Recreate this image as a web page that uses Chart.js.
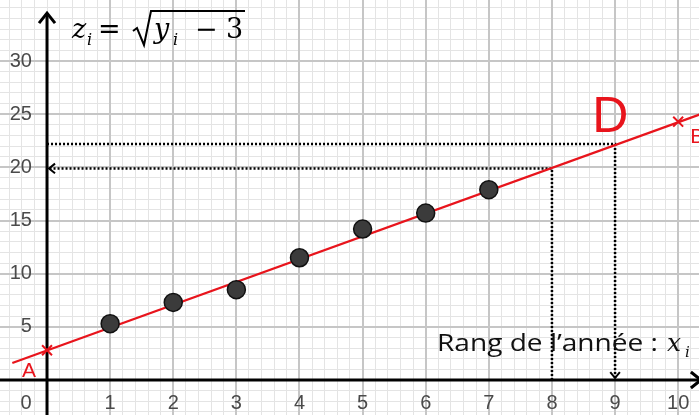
<!DOCTYPE html>
<html>
<head>
<meta charset="utf-8">
<script src="https://cdn.jsdelivr.net/npm/chart.js"></script>
<style>
body { margin: 0; background: #fff; }
#chart-container { width: 699px; height: 415px; }
</style>
</head>
<body>
<div id="chart-container"><canvas id="myChart" width="699" height="415"></canvas></div>
<script>
// rang de l'année x_i and z_i = sqrt(y_i - 3)
var rang = [1, 2, 3, 4, 5, 6, 7];
var zValues = [5.3, 7.3, 8.5, 11.5, 14.2, 15.7, 17.9];

// droite D (through A and B)
var droiteX = [-0.55, 10.4];
var droiteZ = [1.6, 25.1];
var pointA = { x: 0, y: 2.8 };
var pointB = { x: 10, y: 24.3 };

// readings on the line: x = 8 -> z, z -> x = 9
var lectureX = [8, 9];
var lectureZ = [19.9, 22.2];

// axis ticks
var xTicks = [1, 2, 3, 4, 5, 6, 7, 8, 9, 10];
var yTicks = [5, 10, 15, 20, 25, 30];

// window of the graph
var xMin = -0.745, xMax = 10.33;
var yMin = -3.29, yMax = 35.74;

var red = '#e8141c';
var labelFont = { family: 'Liberation Sans', size: 20 };

var ctx = document.getElementById('myChart');

// no room kept for the tick labels, the graph fills the canvas
function noPadding(scale) {
    scale.paddingTop = 0;
    scale.paddingBottom = 0;
    scale.paddingLeft = 0;
    scale.paddingRight = 0;
}

// arrows and texts on top of the chart
var extras = {
    id: 'extras',
    afterDraw: function (chart) {
        var c = chart.ctx;
        var sx = chart.scales.x, sy = chart.scales.y;
        function px(v) { return sx.getPixelForValue(v); }
        function py(v) { return sy.getPixelForValue(v); }
        function arrow(x, y, dx, dy, size, width) {
            // open arrowhead, tip at (x, y), pointing along (dx, dy)
            var nx = -dy, ny = dx;
            c.save();
            c.strokeStyle = '#000';
            c.lineWidth = width;
            c.beginPath();
            c.moveTo(x - dx * size + nx * size * 0.8, y - dy * size + ny * size * 0.8);
            c.lineTo(x, y);
            c.lineTo(x - dx * size - nx * size * 0.8, y - dy * size - ny * size * 0.8);
            c.stroke();
            c.restore();
        }
        // axis arrows
        arrow(px(0), py(34.5), 0, -1, 10, 3);
        arrow(px(10.36), py(0), 1, 0, 10, 3);
        // reading arrows
        arrow(px(0) + 2, py(lectureZ[0]), -1, 0, 6, 2);
        arrow(px(lectureX[1]), py(0) - 2, 0, 1, 6, 2);

        c.save();
        // A, B, D
        c.fillStyle = red;
        c.font = '21px "Liberation Sans"';
        c.textBaseline = 'alphabetic';
        c.fillText('A', px(pointA.x) - 25, py(pointA.y) + 27);
        c.fillText('B', px(pointB.x) + 12, py(pointB.y) + 21);
        c.font = '50px "Liberation Sans"';
        c.fillText('D', px(8.64), py(23.3));

        // formula z_i = sqrt(y_i - 3)
        c.fillStyle = '#000';
        c.font = 'italic 27px "DejaVu Serif"';
        c.fillText('z', 72, 38);
        c.fillText('y', 154, 38);
        c.font = 'italic 16px "DejaVu Serif"';
        c.fillText('i', 87, 45);
        c.fillText('i', 173, 45);
        c.font = '27px "DejaVu Serif"';
        c.fillText('=', 98, 38);
        c.fillText('\u2212', 195, 38);
        c.fillText('3', 226, 38);
        c.strokeStyle = '#000';
        c.lineWidth = 2;
        c.beginPath();
        c.moveTo(133, 31);
        c.lineTo(137, 28);
        c.lineTo(144, 45);
        c.lineTo(151, 11);
        c.lineTo(245, 11);
        c.stroke();

        // axis title, fitted to the width in the picture
        c.fillStyle = '#111';
        c.font = '23px "Open Sans"';
        var title = 'Rang de l\u2019ann\u00e9e :';
        var w = c.measureText(title).width;
        c.save();
        c.translate(437, 351);
        c.scale(221 / w, 1);
        c.fillText(title, 0, 0);
        c.restore();
        c.font = 'italic 25px "DejaVu Serif"';
        c.fillText('x', 667, 351);
        c.font = 'italic 15px "DejaVu Serif"';
        c.fillText('i', 685, 357);
        c.restore();
    }
};

var myChart = new Chart(ctx, {
    type: 'scatter',
    data: {
        datasets: [{
            label: 'points',
            data: rang.map(function (r, i) { return { x: r, y: zValues[i] }; }),
            backgroundColor: '#3b3b3b',
            borderColor: '#111',
            borderWidth: 1.5,
            pointRadius: 9,
            order: 0
        }, {
            label: 'A et B',
            data: [pointA, pointB],
            pointStyle: 'crossRot',
            pointRadius: 7,
            borderColor: red,
            borderWidth: 2,
            order: 1
        }, {
            label: 'D',
            data: [{ x: droiteX[0], y: droiteZ[0] }, { x: droiteX[1], y: droiteZ[1] }],
            showLine: true,
            borderColor: red,
            borderWidth: 2.2,
            pointRadius: 0,
            order: 2
        }, {
            label: 'lecture 1',
            data: [{ x: lectureX[0], y: 0 }, { x: lectureX[0], y: lectureZ[0] }, { x: 0, y: lectureZ[0] }],
            showLine: true,
            borderColor: '#000',
            borderWidth: 2.5,
            borderDash: [2, 2],
            pointRadius: 0,
            order: 3
        }, {
            label: 'lecture 2',
            data: [{ x: 0, y: lectureZ[1] }, { x: lectureX[1], y: lectureZ[1] }, { x: lectureX[1], y: 0 }],
            showLine: true,
            borderColor: '#000',
            borderWidth: 2.5,
            borderDash: [2, 2],
            pointRadius: 0,
            order: 4
        }, {
            label: 'axe x',
            data: [{ x: xMin, y: 0 }, { x: 10.36, y: 0 }],
            showLine: true,
            borderColor: '#000',
            borderWidth: 3,
            pointRadius: 0,
            order: 5
        }, {
            label: 'axe z',
            data: [{ x: 0, y: yMin }, { x: 0, y: 34.5 }],
            showLine: true,
            borderColor: '#000',
            borderWidth: 3,
            pointRadius: 0,
            order: 6
        }]
    },
    options: {
        responsive: false,
        animation: false,
        layout: { padding: 0, autoPadding: false },
        plugins: { legend: { display: false }, tooltip: { enabled: false } },
        scales: {
            xMinor: {
                type: 'linear', axis: 'x', position: { y: 0 },
                min: xMin, max: xMax,
                ticks: { display: false, stepSize: 0.2, includeBounds: false },
                grid: { color: '#e4e4e4', lineWidth: 1, drawTicks: false, z: -2 },
                border: { display: false },
                afterFit: noPadding
            },
            yMinor: {
                type: 'linear', axis: 'y', position: { x: 0 },
                min: yMin, max: yMax,
                ticks: { display: false, stepSize: 1, includeBounds: false },
                grid: { color: '#e4e4e4', lineWidth: 1, drawTicks: false, z: -2 },
                border: { display: false },
                afterFit: noPadding
            },
            x: {
                type: 'linear', position: { y: 0 },
                min: xMin, max: xMax,
                afterBuildTicks: function (scale) {
                    scale.ticks = xTicks.map(function (v) { return { value: v }; });
                },
                afterFit: noPadding,
                ticks: { font: labelFont, color: '#4a4a4a', padding: 11 },
                grid: { color: '#c6c6c6', lineWidth: 2, drawTicks: false },
                border: { display: false }
            },
            xOrigin: {
                type: 'linear', axis: 'x', position: { y: 0 },
                min: xMin, max: xMax,
                afterBuildTicks: function (scale) {
                    scale.ticks = [{ value: 0 }];
                },
                afterFit: noPadding,
                ticks: { font: labelFont, color: '#4a4a4a', padding: 11, labelOffset: -21 },
                grid: { display: false, drawTicks: false },
                border: { display: false }
            },
            y: {
                type: 'linear', position: { x: -0.24 },
                min: yMin, max: yMax,
                afterBuildTicks: function (scale) {
                    scale.ticks = yTicks.map(function (v) { return { value: v }; });
                },
                afterFit: noPadding,
                ticks: { font: labelFont, color: '#4a4a4a' },
                grid: { color: '#c6c6c6', lineWidth: 2, drawTicks: false },
                border: { display: false }
            }
        }
    },
    plugins: [extras]
});
</script>
</body>
</html>
